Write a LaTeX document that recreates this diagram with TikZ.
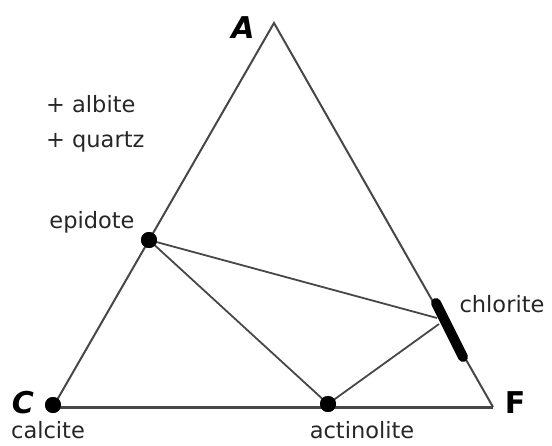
\documentclass[tikz,border=0pt]{standalone}
\usepackage{fontspec}
\setmainfont{DejaVu Sans}
\begin{document}
\begin{tikzpicture}[x=1pt,y=-1pt,
  edge/.style={draw=black!72,line width=2pt},
  base/.style={draw=black!72,line width=3pt},
  tie/.style={draw=black!72,line width=1.8pt},
  dot/.style={circle,fill=black,inner sep=0pt,minimum size=16pt},
  lbl/.style={font=\fontsize{22.5}{26}\selectfont,text=black!85,inner sep=0pt},
  corner/.style={font=\fontsize{30}{34}\selectfont\bfseries,inner sep=0pt}]
\useasboundingbox (0,0) rectangle (552,445);
\coordinate (A) at (274,23);
\coordinate (C) at (53,407);
\coordinate (F) at (493,407);
\coordinate (ch1) at (436,303);
\coordinate (ch2) at (463,357);
\coordinate (e1) at (437,318);
\coordinate (e2) at (439,324);
\node[dot] (ep) at (149,240) {};
\node[dot] (ac) at (328,404) {};
\node[dot] (ca) at (53,405) {};
\draw[edge] (C) -- (A) -- (F);
\draw[base] (C) -- (F);
\draw[tie] (ep.center) -- (e1);
\draw[tie] (ep.center) -- (ac.center);
\draw[tie] (ac.center) -- (e2);
\draw[line width=10pt,line cap=round] (ch1) -- (ch2);
\node[dot] at (ep) {};
\node[dot] at (ac) {};
\node[dot] at (ca) {};
\node[corner,font=\fontsize{30}{34}\selectfont\bfseries\itshape] (lA) at (243,28) {A};
\node[corner,font=\fontsize{30}{34}\selectfont\bfseries\itshape] (lC) at (23,403) {C};
\node[corner] (lF) at (515,403) {F};
\node[lbl,anchor=west] (alb) at (46,104) {+ albite};
\node[lbl,anchor=west] (qtz) at (46,142) {+ quartz};
\node[lbl] (epl) at (92,222) {epidote};
\node[lbl] (cal) at (48,430) {calcite};
\node[lbl] (act) at (362,430) {actinolite};
\node[lbl] (chl) at (502,304) {chlorite};
\end{tikzpicture}
\end{document}
